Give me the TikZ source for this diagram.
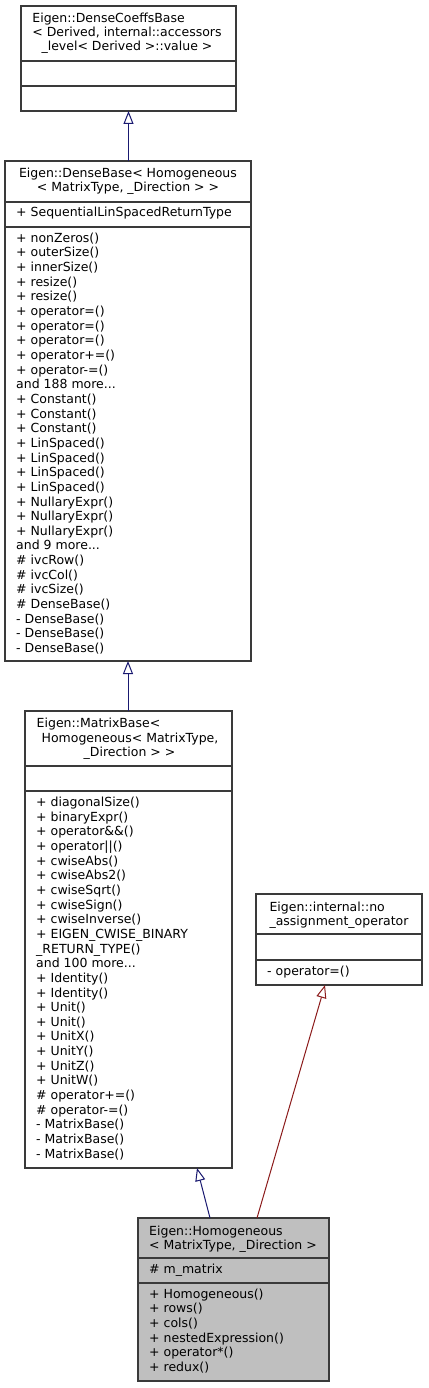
\documentclass[tikz,border=0pt]{standalone}
\usepackage{fontspec}
\setmainfont{DejaVu Sans}
\usetikzlibrary{arrows.meta,calc}
\definecolor{edgeblue}{HTML}{191970}
\definecolor{edgered}{HTML}{8B1A1A}
\definecolor{boxline}{HTML}{3A3A3A}
\definecolor{boxfill}{HTML}{BFBFBF}
\newcommand{\umlfont}{\fontsize{12.5}{14.6}\selectfont}
\newcommand{\mydots}{...}
\begin{document}
\begin{tikzpicture}[x=1pt,y=-1pt,
  box/.style={draw=boxline, line width=1.1pt, inner sep=0pt, outer sep=0pt},
  sepline/.style={draw=boxline, line width=1.1pt},
  txt/.style={anchor=base west, inner sep=0pt, font=\umlfont},
  ctxt/.style={anchor=base, inner sep=0pt, font=\umlfont},
  inh/.style={line width=1pt, -{Triangle[open, length=13pt, width=10pt]}},
]
\useasboundingbox (0,0) rectangle (428,1388);

% ---------- boxes ----------
\node[box, minimum width=215pt, minimum height=105pt] (b1) at (128.5,58.5) {};
\node[box, minimum width=246pt, minimum height=500pt] (b2) at (128,411) {};
\node[box, minimum width=207pt, minimum height=457pt] (b3) at (128.5,939.5) {};
\node[box, minimum width=166pt, minimum height=91pt] (b4) at (339,939.5) {};
\node[box, fill=boxfill, minimum width=191pt, minimum height=163pt] (b5) at (233.5,1299.5) {};

% ---------- separators ----------
\draw[sepline] (b1.west |- 0,61) -- (b1.east |- 0,61);
\draw[sepline] (b1.west |- 0,86) -- (b1.east |- 0,86);
\draw[sepline] (b2.west |- 0,202) -- (b2.east |- 0,202);
\draw[sepline] (b2.west |- 0,227) -- (b2.east |- 0,227);
\draw[sepline] (b3.west |- 0,766) -- (b3.east |- 0,766);
\draw[sepline] (b3.west |- 0,791) -- (b3.east |- 0,791);
\draw[sepline] (b4.west |- 0,934) -- (b4.east |- 0,934);
\draw[sepline] (b4.west |- 0,960) -- (b4.east |- 0,960);
\draw[sepline] (b5.west |- 0,1258) -- (b5.east |- 0,1258);
\draw[sepline] (b5.west |- 0,1283) -- (b5.east |- 0,1283);

% ---------- box 1 ----------
\node[ctxt] (b1t2) at (127,36.7) {< Derived, internal::accessors};
\node[ctxt] (b1t3) at (127,51) {\_level< Derived >::value >};
\node[txt] (b1t1) at (b1t2.west |- 0,22.5) {Eigen::DenseCoeffsBase};

% ---------- box 2 ----------
\node[ctxt] (b2t1) at (128,177.3) {Eigen::DenseBase< Homogeneous};
\node[ctxt] (b2t2) at (128,191.5) {< MatrixType, \_Direction > >};
\node[txt] (b2a1) at (16,216.7) {+ SequentialLinSpacedReturnType};
\foreach \t [count=\i from 0] in {+ nonZeros(),+ outerSize(),+ innerSize(),+ resize(),+ resize(),+ operator=(),+ operator=(),+ operator=(),+ operator+=(),+ operator-=(),and 188 more\mydots,+ Constant(),+ Constant(),+ Constant(),+ LinSpaced(),+ LinSpaced(),+ LinSpaced(),+ LinSpaced(),+ NullaryExpr(),+ NullaryExpr(),+ NullaryExpr(),and 9 more\mydots,\# ivcRow(),\# ivcCol(),\# ivcSize(),\# DenseBase(),- DenseBase(),- DenseBase(),- DenseBase()}
  \node[txt] (b2m\i) at (16,{242.3+\i*14.65}) {\t};

% ---------- box 3 ----------
\node[ctxt] (b3t2) at (130,742) {Homogeneous< MatrixType,};
\node[ctxt] (b3t3) at (129.5,756.5) {\_Direction > >};
\node[txt] (b3t1) at (36.5,727.5) {Eigen::MatrixBase<};
\foreach \t [count=\i from 0] in {+ diagonalSize(),+ binaryExpr(),+ operator\&\&(),+ operator||(),+ cwiseAbs(),+ cwiseAbs2(),+ cwiseSqrt(),+ cwiseSign(),+ cwiseInverse(),+ EIGEN\_CWISE\_BINARY,\_RETURN\_TYPE(),and 100 more\mydots,+ Identity(),+ Identity(),+ Unit(),+ Unit(),+ UnitX(),+ UnitY(),+ UnitZ(),+ UnitW(),\# operator+=(),\# operator-=(),- MatrixBase(),- MatrixBase(),- MatrixBase()}
  \node[txt] (b3m\i) at (36,{806.7+\i*14.64}) {\t};

% ---------- box 4 ----------
\node[ctxt] (b4t2) at (339,925) {\_assignment\_operator};
\node[txt] (b4t1) at (b4t2.west |- 0,911.7) {Eigen::internal::no};
\node[txt] (b4m0) at (267,975) {- operator=()};

% ---------- box 5 ----------
\node[ctxt] (b5t2) at (233,1249) {< MatrixType, \_Direction >};
\node[txt] (b5t1) at (b5t2.west |- 0,1235) {Eigen::Homogeneous};
\node[txt] (b5a1) at (149,1273.3) {\# m\_matrix};
\foreach \t [count=\i from 0] in {+ Homogeneous(),+ rows(),+ cols(),+ nestedExpression(),+ operator*(),+ redux()}
  \node[txt] (b5m\i) at (149,{1298.3+\i*14.6}) {\t};

% ---------- inheritance arrows ----------
\draw[inh, edgeblue] (b1.south |- b2.north) -- (b1.south);
\draw[inh, edgeblue] (b2.south |- b3.north) -- (b2.south);
\draw[inh, edgeblue] ($(b5.north west)+(72,0)$) -- ($(b3.south west)+(172,0)$);
\draw[inh, edgered] ($(b5.north west)+(119,0)$) -- ($(b4.south west)+(69,0)$);
\end{tikzpicture}
\end{document}
